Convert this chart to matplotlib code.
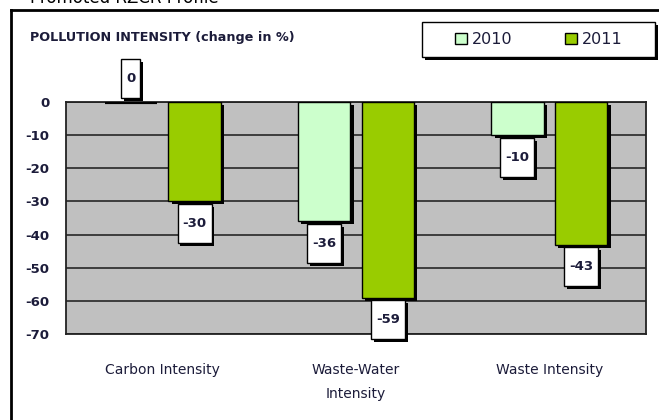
import matplotlib
matplotlib.use("Agg")
import matplotlib.pyplot as plt
import matplotlib.patheffects as pe
from matplotlib.patches import Rectangle
from matplotlib.lines import Line2D
from matplotlib.transforms import IdentityTransform
import numpy as np

categories = ["Carbon Intensity", "Waste-Water\nIntensity", "Waste Intensity"]
years = ["2010", "2011"]
vals_2010 = [0, -36, -10]
vals_2011 = [-30, -59, -43]
yticks = [0, -10, -20, -30, -40, -50, -60, -70]

c2010 = "#CCFFCC"
c2011 = "#99CC00"
txt_col = "#1c1c3a"
plt.rcParams['font.family'] = ['DejaVu Sans']

W, H = 659, 420
fig = plt.figure(figsize=(W / 100, H / 100), dpi=100)

# outer frame (left and top edges)
fig.add_artist(Line2D([11 / W, 11 / W], [0, 1 - 10 / H], color='k', lw=2, transform=fig.transFigure))
fig.add_artist(Line2D([11 / W, 1], [1 - 10 / H, 1 - 10 / H], color='k', lw=2, transform=fig.transFigure))
fig.text(30 / W, 1 - 3 / H, "Promoted RZCR Profile", fontsize=12, va='baseline', color='k')

ax = fig.add_axes([66 / W, 1 - 334 / H, 580 / W, 232 / H])
ax.set_facecolor("#C0C0C0")
for s in ax.spines.values():
    s.set_color("#222222")
    s.set_linewidth(1.3)

x = np.arange(len(categories))
bw = 0.27
off = 0.165
shadow = [pe.SimplePatchShadow(offset=(2.4, -2.2), shadow_rgbFace='k', alpha=1), pe.Normal()]
b1 = ax.bar(x - off, vals_2010, bw, color=c2010, edgecolor='k', lw=1, zorder=3, label=years[0])
b2 = ax.bar(x + off, vals_2011, bw, color=c2011, edgecolor='k', lw=1, zorder=3, label=years[1])
for b in list(b1) + list(b2):
    b.set_path_effects(shadow)
    if b.get_height() == 0:
        b.set_linewidth(3)

ax.set_ylim(-70, 0)
ax.set_xlim(-0.5, 2.5)
ax.set_yticks(yticks)
ax.set_yticklabels([str(v) for v in yticks])
ax.yaxis.grid(True, color='#1a1a1a', lw=1.1)
ax.set_axisbelow(True)
ax.tick_params(axis='y', length=0, pad=12, labelsize=9.5, labelcolor=txt_col)
for t in ax.get_yticklabels():
    t.set_fontweight('bold')
ax.set_xticks(x)
ax.set_xticklabels(categories)
ax.tick_params(axis='x', length=0, pad=21, labelsize=10, labelcolor=txt_col)
for t in ax.get_xticklabels():
    t.set_linespacing(1.9)

# data labels in boxes
labels = []
for xs, vals in ((x - off, vals_2010), (x + off, vals_2011)):
    for xi, v in zip(xs, vals):
        dy = 17 if v >= 0 else -16
        t = ax.annotate(str(v), (xi, v), xytext=(0, dy), textcoords='offset points',
                        ha='center', va='center', fontsize=9.5, fontweight='bold',
                        color=txt_col, zorder=6, annotation_clip=False)
        labels.append(t)

fig.canvas.draw()
for t in labels:
    bb = t.get_window_extent()
    cy = (bb.y0 + bb.y1) / 2
    r = Rectangle((bb.x0 - 5, cy - 19.5), bb.width + 10, 39, transform=IdentityTransform(),
                  facecolor='white', edgecolor='k', lw=1, zorder=5, clip_on=False)
    r.set_path_effects([pe.SimplePatchShadow(offset=(2, -2), shadow_rgbFace='k', alpha=1), pe.Normal()])
    ax.add_artist(r)

fig.text(30 / W, 1 - 37 / H, "POLLUTION INTENSITY (change in %)", fontsize=9.2, fontweight='bold',
         color=txt_col, va='center')

# legend box drawn by hand, entries by the legend
frame = Rectangle((422 / W, 1 - 57 / H), 233 / W, 35 / H, transform=fig.transFigure,
                  facecolor='white', edgecolor='k', lw=1, zorder=1)
frame.set_path_effects([pe.SimplePatchShadow(offset=(2, -2), shadow_rgbFace='k', alpha=1), pe.Normal()])
fig.add_artist(frame)
h1 = Rectangle((0, 0), 1, 1, facecolor=c2010, edgecolor='k', lw=1)
h2 = Rectangle((0, 0), 1, 1, facecolor=c2011, edgecolor='k', lw=1)
leg = fig.legend([h1, h2], years, loc='center', ncol=2,
                 bbox_to_anchor=(422 / W, 1 - 57 / H, 233 / W, 35 / H),
                 frameon=False, handlelength=0.75, handleheight=0.75, handletextpad=0.3,
                 columnspacing=3.3, fontsize=11.5, borderaxespad=0)
leg.set_zorder(2)
for t in leg.get_texts():
    t.set_color(txt_col)

fig.savefig("out.png", dpi=100)
